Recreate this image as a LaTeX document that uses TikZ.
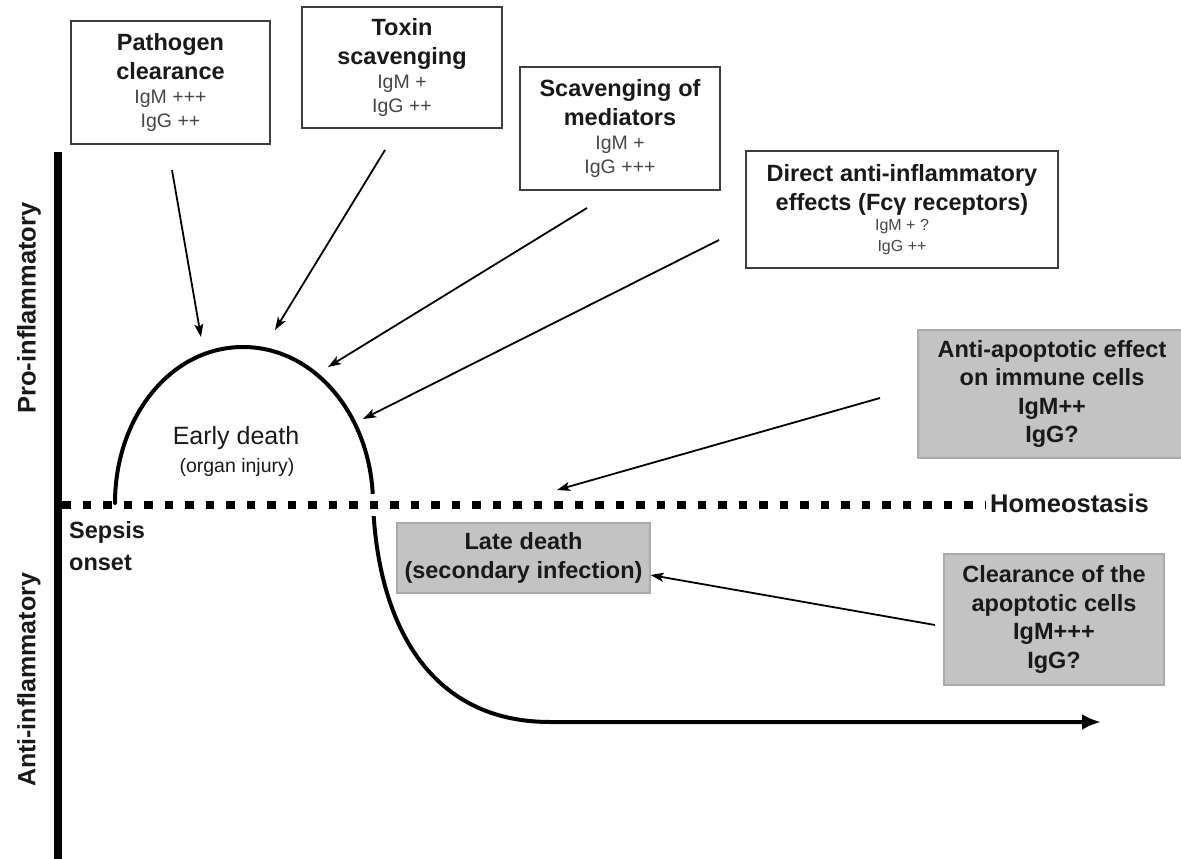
\documentclass[tikz,border=0pt]{standalone}
\usepackage{fontspec}
\setmainfont{Liberation Sans}
\usetikzlibrary{arrows.meta}
\definecolor{boxgray}{RGB}{195,195,195}
\definecolor{boxedge}{RGB}{170,170,170}
\definecolor{txt}{RGB}{25,25,25}
\definecolor{valtxt}{RGB}{70,70,70}
\definecolor{edgec}{RGB}{60,60,60}
\newcommand{\ttlf}{\fontsize{23.5}{28.5}\selectfont\bfseries\spaceskip=0.29em\relax}
\newcommand{\valf}{\fontsize{19.5}{24}\selectfont\mdseries\spaceskip=0.28em\relax\color{valtxt}}
\newcommand{\valsmf}{\fontsize{16}{20.5}\selectfont\mdseries\spaceskip=0.28em\relax\color{valtxt}}
\tikzset{
  wbox/.style={draw=edgec, line width=2pt, fill=white, inner sep=0pt, align=center, text=txt},
  gbox/.style={draw=boxedge, line width=1.2pt, fill=boxgray, inner sep=0pt, align=center, text=txt},
  thinarr/.style={line width=1.8pt, -{Stealth[length=13pt,width=9pt,inset=3pt]}},
  curve/.style={line width=4pt, line cap=round},
  lbl/.style={inner sep=0pt, text=txt}
}
\begin{document}
\begin{tikzpicture}[x=1pt,y=-1pt]
\useasboundingbox (0,0) rectangle (1181,859);

% boxes
\node[wbox, minimum width=199pt, minimum height=123pt, text width=199pt] (path) at (170.5,82.5)
  {\ttlf Pathogen\\clearance\par\valf IgM +++\\IgG ++\par};
\node[wbox, minimum width=200pt, minimum height=121pt, text width=200pt] (tox) at (402,67.5)
  {\ttlf Toxin\\scavenging\par\valf IgM +\\IgG ++\par};
\node[wbox, minimum width=200pt, minimum height=123pt, text width=200pt] (scav) at (620,128.5)
  {\ttlf Scavenging of\\mediators\par\valf IgM +\\IgG +++\par};
\node[wbox, minimum width=312pt, minimum height=117pt, text width=312pt] (dir) at (902,209.5)
  {\ttlf Direct anti-inflammatory\\effects (Fcγ receptors)\par\valsmf IgM + ?\\IgG ++\par};
\node[gbox, minimum width=268pt, minimum height=128pt, text width=268pt] (apo) at (1052,394)
  {\ttlf Anti-apoptotic effect\\on immune cells\\IgM++\\IgG?\par};
\node[gbox, minimum width=220pt, minimum height=131pt, text width=220pt] (clr) at (1054,619.5)
  {\ttlf Clearance of the\\apoptotic cells\\IgM+++\\IgG?\par};
\node[gbox, minimum width=253pt, minimum height=70pt, text width=253pt] (late) at (523.5,558)
  {\ttlf Late death\\(secondary infection)\par};

% curve
\coordinate (foot) at (115,503);
\coordinate (peak) at (243,347);
\coordinate (cross) at (373,504);
\coordinate (bend) at (550,722);
\coordinate (end) at (1101,722);
\draw[curve] (foot) .. controls (115,418) and (170,347) .. (peak)
  .. controls (316,347) and (373,418) .. (cross);
\draw[line width=4pt, -{Latex[length=19pt,width=16pt]}] (cross) .. controls (378,625) and (430,722) .. (bend) -- (end);
\fill[white] (362,494) rectangle (388,516);

% homeostasis line
\coordinate (hl) at (62,505);
\coordinate (hr) at (985,505);
\draw[line width=8.5pt, dash pattern=on 8.5pt off 12pt] (hl) -- (hr);
\node[lbl, anchor=west, font=\fontsize{25.5}{30}\selectfont\bfseries] (homeo) at (990,503) {Homeostasis};

% axis
\coordinate (atop) at (58,152);
\coordinate (abot) at (58,862);
\draw[line width=8pt] (atop) -- (abot);
\node[lbl, rotate=90, font=\fontsize{25.5}{30}\selectfont\bfseries] (pro) at (29,308) {Pro-inflammatory};
\node[lbl, rotate=90, font=\fontsize{25}{30}\selectfont\bfseries] (anti) at (29,680) {Anti-inflammatory};

% labels
\node[lbl, anchor=base, font=\fontsize{25}{30}\selectfont] (early) at (236,444) {Early death};
\node[lbl, anchor=base, font=\fontsize{19.5}{24}\selectfont] (organ) at (237,472) {(organ injury)};
\node[lbl, anchor=base west, font=\fontsize{23.5}{29}\selectfont\bfseries] (sep1) at (69,538) {Sepsis};
\node[lbl, anchor=base west, font=\fontsize{23.5}{29}\selectfont\bfseries] (sep2) at (69,570) {onset};

% arrows
\coordinate (t1) at (172,170); \coordinate (h1) at (201,337);
\coordinate (t2) at (385,150); \coordinate (h2) at (275,330);
\coordinate (t3) at (587,208); \coordinate (h3) at (328,367);
\coordinate (t4) at (719,240); \coordinate (h4) at (363,419);
\coordinate (t5) at (880,398); \coordinate (h5) at (557,490);
\coordinate (t6) at (935,625);
\draw[thinarr] (t1) -- (h1);
\draw[thinarr] (t2) -- (h2);
\draw[thinarr] (t3) -- (h3);
\draw[thinarr] (t4) -- (h4);
\draw[thinarr] (t5) -- (h5);
\draw[thinarr] (t6) -- (late.east |- 0,575);
\end{tikzpicture}
\end{document}
